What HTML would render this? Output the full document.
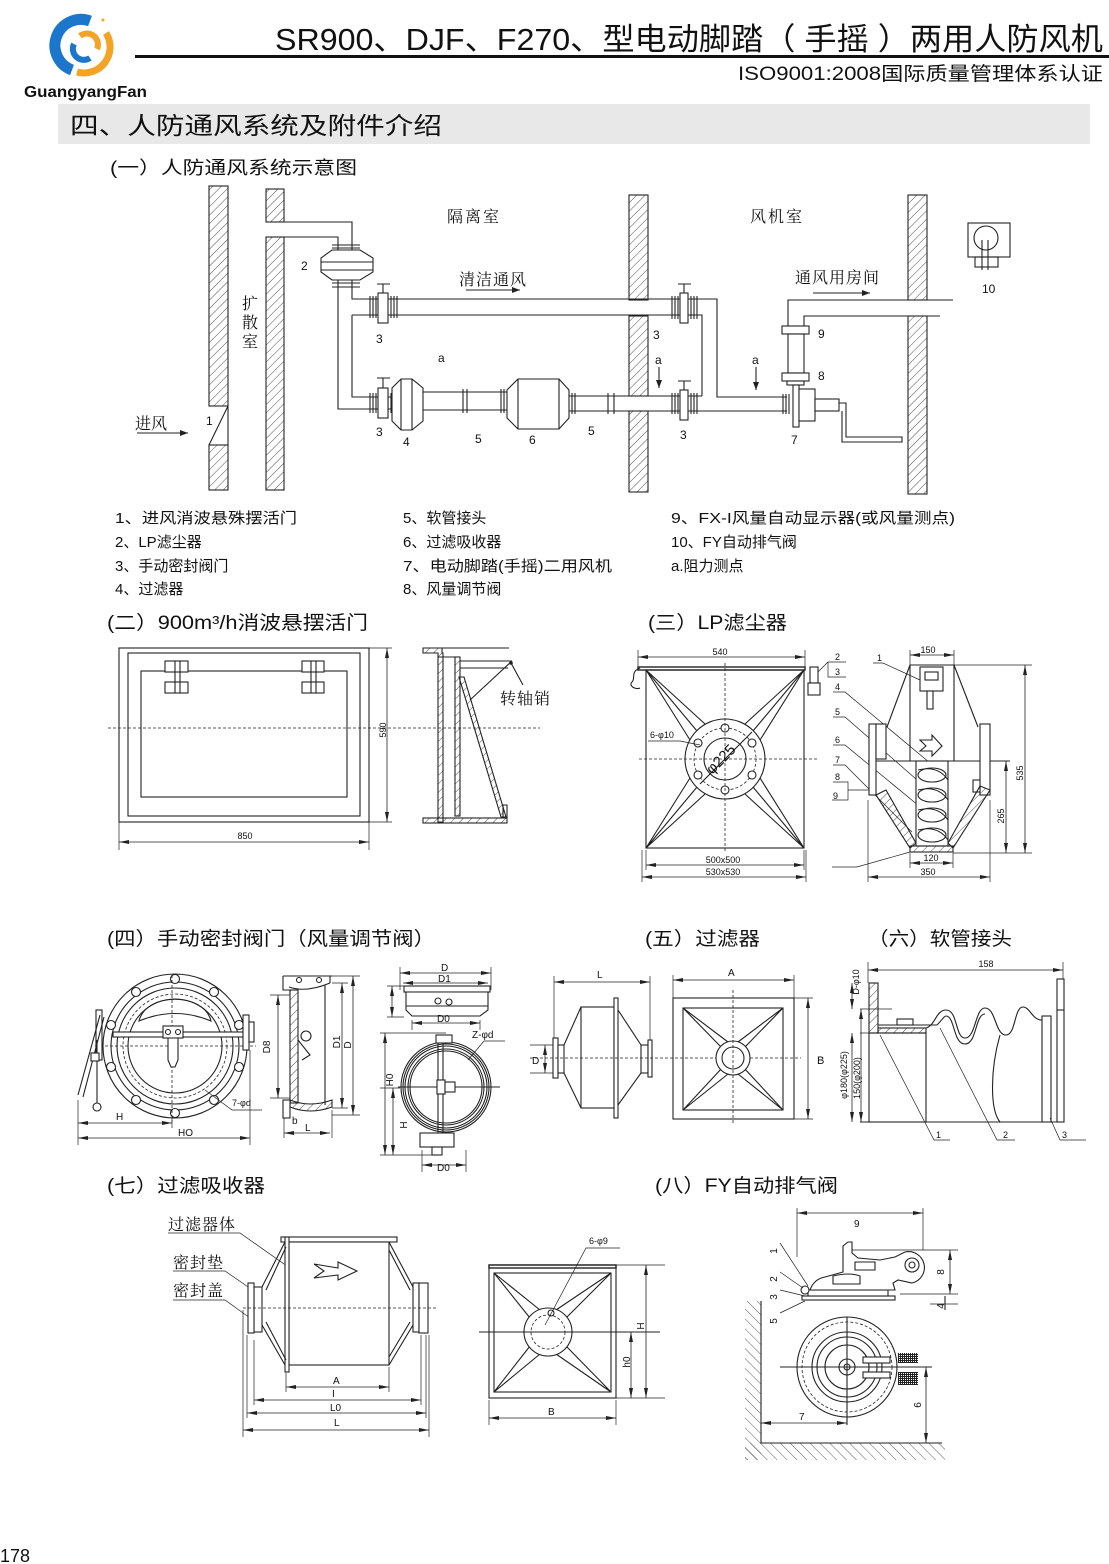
<!DOCTYPE html>
<html><head><meta charset="utf-8"><style>
html,body{margin:0;padding:0;background:#fff;}
svg{display:block;}
text{font-family:"Liberation Sans","Noto Sans CJK SC",sans-serif;fill:#111;}
.s{font-family:"Liberation Serif","Noto Serif CJK SC",serif;}
.l{stroke:#222;stroke-width:1.1;fill:none;}
.t{stroke:#222;stroke-width:1.4;fill:none;}
.w{stroke:#222;stroke-width:1.1;fill:#fff;}
.h{stroke:#222;stroke-width:1.1;fill:url(#hp);}
.d{stroke:#222;stroke-width:0.8;fill:none;marker-start:url(#ar);marker-end:url(#ar);}
.e{stroke:#222;stroke-width:0.7;fill:none;}
.dsh{stroke:#222;stroke-width:0.8;fill:none;stroke-dasharray:3 2;}
.n{font-size:12px;}
.m{font-size:9px;}
</style></head><body>
<svg width="1109" height="1564" viewBox="0 0 1109 1564" xmlns="http://www.w3.org/2000/svg">
<defs>
<pattern id="hp" width="6" height="6" patternUnits="userSpaceOnUse" patternTransform="rotate(45)"><line x1="0" y1="0" x2="0" y2="6" stroke="#222" stroke-width="0.8"/></pattern>
<pattern id="hp2" width="7" height="7" patternUnits="userSpaceOnUse" patternTransform="rotate(-45)"><line x1="0" y1="0" x2="0" y2="7" stroke="#333" stroke-width="0.8"/></pattern>
<pattern id="mesh" width="2" height="2" patternUnits="userSpaceOnUse"><rect width="1" height="2" fill="#222"/><rect width="2" height="1" fill="#222"/></pattern>
<marker id="ar" viewBox="0 0 10 4" refX="10" refY="2" markerWidth="10" markerHeight="4" orient="auto-start-reverse" markerUnits="userSpaceOnUse"><path d="M0,0 L10,2 L0,4z" fill="#222"/></marker>
<marker id="ar2" viewBox="0 0 8 6" refX="8" refY="3" markerWidth="8" markerHeight="6" orient="auto" markerUnits="userSpaceOnUse"><path d="M0,0 L8,3 L0,6z" fill="#222"/></marker>
</defs>

<!-- HEADER -->
<g>
<path d="M90,21 A26,26 0 0 0 72,70" stroke="#1c76cc" stroke-width="11" fill="none"/>
<path d="M106,33 A26,26 0 0 1 77,72" stroke="#f3a325" stroke-width="7" fill="none"/>
<path d="M74,44 A11,11 0 0 0 90,58" stroke="#1c76cc" stroke-width="6" fill="none"/>
<path d="M80,36 A11,11 0 0 1 97,49" stroke="#f3a325" stroke-width="6" fill="none"/>
<circle cx="103" cy="20" r="1.5" fill="#f3a325"/>
<text x="24" y="97" font-size="16" font-weight="bold" textLength="123" lengthAdjust="spacingAndGlyphs">GuangyangFan</text>
</g>
<text x="275" y="50" font-size="31" textLength="828" lengthAdjust="spacingAndGlyphs">SR900、DJF、F270、型电动脚踏（ 手摇 ）两用人防风机</text>
<rect x="135" y="55" width="974" height="3" fill="#111"/>
<text x="738" y="80" font-size="19" textLength="365" lengthAdjust="spacingAndGlyphs">ISO9001:2008国际质量管理体系认证</text>
<rect x="58" y="104" width="1032" height="40" fill="#e8e8e8"/>
<text x="70" y="134" font-size="24" textLength="372" lengthAdjust="spacingAndGlyphs">四、人防通风系统及附件介绍</text>
<text x="110" y="174" font-size="18" textLength="247" lengthAdjust="spacingAndGlyphs">(一）人防通风系统示意图</text>

<!-- SECTION 1 DIAGRAM -->
<g>
<rect class="h" x="209" y="186" width="19" height="220"/>
<rect class="h" x="209" y="445" width="19" height="45"/>
<line class="l" x1="228" y1="406" x2="228" y2="445"/>
<line class="l" x1="228" y1="406" x2="209" y2="445"/>
<rect class="h" x="266" y="189" width="18" height="33"/>
<rect class="h" x="266" y="237" width="18" height="253"/>
<rect class="h" x="629" y="195" width="19" height="105"/>
<rect class="h" x="629" y="316" width="19" height="80"/>
<rect class="h" x="629" y="411" width="19" height="81"/>
<rect class="h" x="908" y="195" width="19" height="105"/>
<rect class="h" x="908" y="316" width="19" height="178"/>

<path class="l" d="M284,222 H352 V250 M284,237 H338 V250"/>
<line class="l" x1="332" y1="245" x2="360" y2="245"/>
<line class="l" x1="332" y1="248" x2="360" y2="248"/>
<polygon class="w" points="332,250 360,250 373,258 373,272 360,280 332,280 321,272 321,258"/>
<line class="l" x1="321" y1="262" x2="373" y2="262"/>
<line class="l" x1="321" y1="270" x2="373" y2="270"/>
<line class="l" x1="332" y1="283" x2="360" y2="283"/>
<line class="l" x1="332" y1="287" x2="360" y2="287"/>
<path class="l" d="M338,280 V409 H392 M352,280 V299 H717 V397 H787 M352,315 V397 H392 M352,315 H702 V396"/>
<path class="l" d="M423,392 H507 M423,410 H507 M569,396 H702 M569,411 H787"/>
<g class="l">
<path d="M370,296V318M373,296V318M376,296V318M391,296V318M394,296V318M397,296V318"/>
<path d="M370,393V413M373,393V413M376,393V413M391,393V413M394,393V413M388,393V413"/>
<path d="M463,389V413M467,389V413M501,389V413M504,389V413M572,393V414M575,393V414M608,393V414M614,393V414"/>
<path d="M672,296V319M675,296V319M678,296V319M691,296V319M694,296V319M697,296V319"/>
<path d="M672,393V414M675,393V414M678,393V414M691,393V414M694,393V414M697,393V414"/>
<path d="M783,394V414M786,394V414M789,394V414"/>
</g>
<rect class="w" x="378" y="293" width="10" height="30"/>
<path class="l" d="M383,293V284M377,284H390"/>
<rect class="w" x="378" y="388" width="10" height="30"/>
<path class="l" d="M383,388V378M377,378H390"/>
<rect class="w" x="680" y="293" width="8" height="30"/>
<path class="l" d="M684,293V284M678,284H691"/>
<rect class="w" x="680" y="390" width="8" height="30"/>
<path class="l" d="M684,390V381M678,381H691"/>
<polygon class="w" points="392,388 401,379 412,379 423,388 423,421 412,430 401,430 392,421"/>
<path class="l" d="M401,379V430M412,379V430"/>
<polygon class="w" points="507,390 518,379 559,379 569,390 569,418 559,429 518,429 507,418"/>
<path class="l" d="M518,379V429M559,379V429"/>
<path class="l" d="M788,326 V300 H953 M804,326 V316 H940"/>
<rect class="w" x="782" y="326" width="27" height="8"/>
<rect class="w" x="788" y="334" width="16" height="39"/>
<rect class="w" x="782" y="373" width="27" height="8"/>
<rect class="w" x="787" y="381" width="17" height="4"/>
<rect class="w" x="793" y="385" width="6" height="42"/>
<rect class="w" x="799" y="389" width="16" height="32"/>
<rect class="w" x="815" y="399" width="24" height="12"/>
<path class="l" d="M839,403 H846 V437 H902 V442 H842 V411"/>
<rect class="w" x="968" y="223" width="42" height="34"/>
<circle class="l" cx="986" cy="238" r="12"/>
<rect class="l" x="975" y="257" width="23" height="10"/>
<path class="l" d="M982,240V270M988,240V270"/>
<text class="s" x="447" y="222" font-size="16" letter-spacing="2">隔离室</text>
<text class="s" x="750" y="222" font-size="16" letter-spacing="2">风机室</text>
<text class="s" x="459" y="285" font-size="16" letter-spacing="1">清洁通风</text>
<line class="l" x1="466" y1="290" x2="520" y2="290" marker-end="url(#ar2)"/>
<text class="s" x="795" y="283" font-size="16" letter-spacing="1">通风用房间</text>
<line class="l" x1="813" y1="293" x2="870" y2="293" marker-end="url(#ar2)"/>
<text class="s" x="242" y="309" font-size="16">扩</text>
<text class="s" x="242" y="328" font-size="16">散</text>
<text class="s" x="242" y="347" font-size="16">室</text>
<text class="s" x="135" y="429" font-size="16">进风</text>
<line class="l" x1="137" y1="433" x2="188" y2="433" marker-end="url(#ar2)"/>
<g class="n">
<text x="206" y="425">1</text>
<text x="301" y="270">2</text>
<text x="376" y="343">3</text>
<text x="438" y="362">a</text>
<text x="376" y="436">3</text>
<text x="403" y="446">4</text>
<text x="475" y="443">5</text>
<text x="529" y="444">6</text>
<text x="588" y="435">5</text>
<text x="653" y="339">3</text>
<text x="655" y="364">a</text>
<text x="752" y="364">a</text>
<text x="680" y="439">3</text>
<text x="791" y="444">7</text>
<text x="818" y="338">9</text>
<text x="818" y="380">8</text>
<text x="982" y="293">10</text>
</g>
<line class="l" x1="659" y1="367" x2="659" y2="388" marker-end="url(#ar2)"/>
<line class="l" x1="756" y1="367" x2="756" y2="390" marker-end="url(#ar2)"/>
</g>

<!-- PARTS LIST -->
<g font-size="15">
<text x="115" y="523" textLength="182" lengthAdjust="spacingAndGlyphs">1、进风消波悬殊摆活门</text>
<text x="115" y="547">2、LP滤尘器</text>
<text x="115" y="571">3、手动密封阀门</text>
<text x="115" y="594">4、过滤器</text>
<text x="403" y="523">5、软管接头</text>
<text x="403" y="547">6、过滤吸收器</text>
<text x="403" y="571" textLength="209" lengthAdjust="spacingAndGlyphs">7、电动脚踏(手摇)二用风机</text>
<text x="403" y="594">8、风量调节阀</text>
<text x="671" y="523" textLength="284" lengthAdjust="spacingAndGlyphs">9、FX-I风量自动显示器(或风量测点)</text>
<text x="671" y="547">10、FY自动排气阀</text>
<text x="671" y="571">a.阻力测点</text>
</g>

<!-- SECTION TITLES -->
<g font-size="19">
<text x="107" y="629" textLength="261" lengthAdjust="spacingAndGlyphs">(二）900m³/h消波悬摆活门</text>
<text x="648" y="629" textLength="139" lengthAdjust="spacingAndGlyphs">(三）LP滤尘器</text>
<text x="107" y="945" textLength="328" lengthAdjust="spacingAndGlyphs">(四）手动密封阀门（风量调节阀）</text>
<text x="645" y="945" textLength="115" lengthAdjust="spacingAndGlyphs">(五）过滤器</text>
<text x="868" y="945" textLength="144" lengthAdjust="spacingAndGlyphs">（六）软管接头</text>
<text x="107" y="1192" textLength="158" lengthAdjust="spacingAndGlyphs">(七）过滤吸收器</text>
<text x="655" y="1192" textLength="183" lengthAdjust="spacingAndGlyphs">(八）FY自动排气阀</text>
</g>

<!-- SECTION 2 -->
<g>
<rect class="l" x="119" y="648" width="250" height="174"/>
<rect class="l" x="128" y="653" width="232" height="163"/>
<rect class="l" x="141" y="671" width="206" height="126"/>
<rect class="w" x="165" y="661" width="23" height="11"/>
<rect class="w" x="165" y="682" width="23" height="11"/>
<path class="l" d="M175,661V693M180,661V693"/>
<rect class="w" x="302" y="661" width="22" height="11"/>
<rect class="w" x="302" y="682" width="22" height="11"/>
<path class="l" d="M311,661V693M316,661V693"/>
<line class="dsh" x1="108" y1="728" x2="540" y2="728"/>
<path class="e" d="M369,648H392M369,822H392M119,822V850M369,822V850"/>
<line class="d" x1="387" y1="648" x2="387" y2="822"/>
<text class="m" transform="translate(386,730) rotate(-90)" text-anchor="middle">590</text>
<line class="d" x1="119" y1="842" x2="369" y2="842"/>
<text class="m" x="245" y="839" text-anchor="middle">850</text>
<path class="h" d="M423,648 H442 V653 H443 V822 H438 V653 H423 Z"/>
<rect class="h" x="455" y="657" width="5" height="159"/>
<path class="l" d="M438,657H460M442,648H509M460,661H512M460,668H508M470,700L512,661"/>
<polygon class="h" points="459,677 464,677 506,817 501,817"/>
<rect class="h" x="423" y="818" width="84" height="5"/>
<path class="l" d="M503,818V805H507V818"/>
<circle cx="511" cy="663" r="1.8" fill="#222"/>
<line class="l" x1="511" y1="663" x2="523" y2="685"/>
<text class="s" x="500" y="704" font-size="16" letter-spacing="1">转轴销</text>
</g>

<!-- SECTION 3 -->
<g>
<rect class="t" x="638" y="667" width="167" height="3"/>
<rect class="l" x="646" y="670" width="158" height="178"/>
<path class="l" d="M646,670L705,724M646,670L690,740M804,670L745,724M804,670L760,740M646,848L690,778M646,848L705,794M804,848L760,778M804,848L745,794M646,670L697,731M804,670L753,731M646,848L697,787M804,848L753,787"/>
<circle class="w" cx="725" cy="759" r="40"/>
<circle class="dsh" cx="725" cy="759" r="31"/>
<circle class="l" cx="725" cy="759" r="21"/>
<g class="w"><circle cx="725" cy="728" r="4"/><circle cx="752" cy="743" r="4"/><circle cx="752" cy="775" r="4"/><circle cx="725" cy="790" r="4"/><circle cx="698" cy="775" r="4"/><circle cx="698" cy="743" r="4"/></g>
<line class="dsh" x1="725" y1="663" x2="725" y2="853"/>
<line class="dsh" x1="639" y1="759" x2="817" y2="759"/>
<line class="l" x1="700" y1="784" x2="752" y2="732"/>
<text x="0" y="0" font-size="15" transform="translate(712,775) rotate(-45)">φ225</text>
<text class="m" x="650" y="738">6-φ10</text>
<path class="e" d="M648,741H680L700,745"/>
<path class="l" d="M640,668 C630,672 636,678 632,682 C628,686 636,690 640,688"/>
<rect class="w" x="810" y="667" width="8" height="16"/>
<rect class="w" x="808" y="683" width="12" height="12"/>
<path class="e" d="M638,650V668M805,650V668M646,850V870M804,850V870M642,850V882M806,850V882"/>
<line class="d" x1="638" y1="657" x2="805" y2="657"/>
<text class="m" x="720" y="655" text-anchor="middle">540</text>
<line class="d" x1="646" y1="865" x2="804" y2="865"/>
<text class="m" x="723" y="863" text-anchor="middle">500x500</text>
<line class="d" x1="642" y1="877" x2="806" y2="877"/>
<text class="m" x="723" y="875" text-anchor="middle">530x530</text>
<g class="m"><text x="835" y="660">2</text><text x="835" y="675">3</text><text x="835" y="690">4</text><text x="835" y="715">5</text><text x="835" y="743">6</text><text x="835" y="763">7</text><text x="835" y="780">8</text><text x="833" y="799">9</text><text x="877" y="661">1</text></g>
<path class="e" d="M818,672L828,662H846M828,662V677H846M833,692H845L930,763M833,717H845L940,800M833,745H845L930,815M833,765H845L912,832M833,782H848V800H832M848,790H870M873,663H883L920,680"/>
<path class="e" d="M910,650V665M954,650V665"/>
<line class="d" x1="910" y1="655" x2="954" y2="655"/>
<text class="m" x="928" y="653" text-anchor="middle">150</text>
<path class="l" d="M910,665H954M910,665L887,727M954,665L978,727M910,665V761M954,665V761M868,761H1010"/>
<rect class="w" x="920" y="667" width="23" height="24"/>
<rect class="l" x="925" y="672" width="13" height="8"/>
<rect class="w" x="927" y="691" width="6" height="18"/>
<rect class="w" x="869" y="724" width="7" height="71"/>
<rect class="w" x="876" y="724" width="10" height="35"/>
<rect class="w" x="980" y="724" width="10" height="71"/>
<rect class="w" x="973" y="780" width="7" height="12"/>
<path class="l" d="M920,740H932V735L942,746L932,756V751H920L926,746Z"/>
<polygon class="h" points="876,795 886,790 916,843 910,848"/>
<polygon class="h" points="980,786 990,790 953,848 948,843"/>
<rect class="w" x="916" y="761" width="32" height="85"/>
<g class="l">
<ellipse cx="932" cy="775" rx="14" ry="7"/><ellipse cx="932" cy="795" rx="14" ry="7"/><ellipse cx="932" cy="815" rx="14" ry="7"/><ellipse cx="932" cy="835" rx="14" ry="7"/>
<path d="M918,770Q938,765 948,780M918,790Q938,785 948,800M918,810Q938,805 948,820M918,830Q938,825 948,840"/>
</g>
<rect class="h" x="910" y="846" width="43" height="6"/>
<path class="e" d="M954,665H1032M953,853H1032M868,800V882M990,800V882M910,853V868M953,853V868M910,852L857,867H832"/>
<line class="d" x1="1025" y1="665" x2="1025" y2="853"/>
<text class="m" transform="translate(1023,773) rotate(-90)" text-anchor="middle">535</text>
<line class="d" x1="1006" y1="761" x2="1006" y2="853"/>
<text class="m" transform="translate(1004,816) rotate(-90)" text-anchor="middle">265</text>
<line class="d" x1="910" y1="863" x2="953" y2="863"/>
<text class="m" x="931" y="861" text-anchor="middle">120</text>
<line class="d" x1="868" y1="877" x2="990" y2="877"/>
<text class="m" x="928" y="875" text-anchor="middle">350</text>
</g>

<!-- SECTION 4 -->
<g>
<circle class="w" cx="175" cy="1046" r="72"/>
<circle class="l" cx="175" cy="1046" r="64"/>
<circle class="l" cx="175" cy="1046" r="58"/>
<circle class="dsh" cx="175" cy="1046" r="52"/>
<circle class="l" cx="175" cy="1046" r="47"/>
<g class="w">
<circle cx="175" cy="979" r="4.5"/><circle cx="214" cy="992" r="4.5"/><circle cx="239" cy="1025" r="4.5"/><circle cx="239" cy="1067" r="4.5"/><circle cx="214" cy="1100" r="4.5"/><circle cx="175" cy="1113" r="4.5"/><circle cx="136" cy="1100" r="4.5"/><circle cx="111" cy="1067" r="4.5"/><circle cx="111" cy="1025" r="4.5"/><circle cx="136" cy="992" r="4.5"/>
</g>
<line class="dsh" x1="95" y1="1046" x2="256" y2="1046"/>
<line class="dsh" x1="172" y1="975" x2="172" y2="1122"/>
<path class="l" d="M139,1021 C146,992 204,992 211,1021 Q175,1006 139,1021Z"/>
<rect class="w" x="113" y="1032" width="134" height="5"/>
<rect class="w" x="163" y="1026" width="20" height="12"/>
<circle class="l" cx="168" cy="1032" r="2.5"/><circle class="l" cx="178" cy="1032" r="2.5"/>
<path class="w" d="M168,1038 H178 V1060 L175,1067 H171 L168,1060Z"/>
<rect class="w" x="96" y="1010" width="6" height="50"/>
<path class="l" d="M78,1095L100,1015M83,1097L104,1017M97,1040V1103"/>
<rect class="w" x="91" y="1053" width="8" height="8"/>
<circle class="w" cx="97" cy="1107" r="4"/>
<rect class="w" x="243" y="1015" width="6" height="35"/>
<rect class="w" x="249" y="1022" width="5" height="20"/>
<path class="e" d="M205,1090L232,1110H262M78,1100V1145M172,1115V1128M250,1050V1145"/>
<text class="m" x="232" y="1106" font-size="10">7-φd</text>
<line class="d" x1="78" y1="1123" x2="172" y2="1123"/>
<text x="116" y="1120" font-size="10">H</text>
<line class="d" x1="78" y1="1138" x2="250" y2="1138"/>
<text x="178" y="1136" font-size="10">HO</text>
<path class="l" d="M283,976H332M283,976V990H290M289,987Q306,993 330,983M330,976V983"/>
<circle class="l" cx="299" cy="980" r="2.5"/><circle class="l" cx="319" cy="980" r="2.5"/>
<rect class="h" x="290" y="990" width="8" height="113"/>
<line class="l" x1="325" y1="985" x2="325" y2="1105"/>
<path class="h" d="M290,1100 Q310,1108 332,1100 L332,1107 Q310,1115 290,1107Z"/>
<rect class="w" x="283" y="1100" width="7" height="18"/>
<circle class="w" cx="306" cy="1036" r="5"/>
<path class="l" d="M298,1040L310,1055L302,1060"/>
<path class="e" d="M270,995H290M270,1098H290M332,983H348M332,1108H348M332,976H360M332,1115H360M284,1118V1138M332,1110V1138"/>
<line class="d" x1="278" y1="995" x2="278" y2="1098"/>
<text transform="translate(270,1047) rotate(-90)" font-size="10" text-anchor="middle">D8</text>
<line class="d" x1="342" y1="983" x2="342" y2="1108"/>
<text transform="translate(340,1042) rotate(-90)" font-size="10" text-anchor="middle">D1</text>
<line class="d" x1="353" y1="976" x2="353" y2="1115"/>
<text transform="translate(351,1045) rotate(-90)" font-size="10" text-anchor="middle">D</text>
<text x="292" y="1124" font-size="10">b</text>
<line class="d" x1="284" y1="1133" x2="330" y2="1133"/>
<text x="305" y="1131" font-size="10">L</text>
<path class="e" d="M400,967V990M491,967V990M387,986H404M387,1017H404M412,1020V1030M480,1020V1030"/>
<line class="d" x1="400" y1="973" x2="491" y2="973"/>
<text x="441" y="971" font-size="10">D</text>
<line class="d" x1="403" y1="983" x2="488" y2="983"/>
<text x="438" y="982" font-size="10">D1</text>
<line class="d" x1="392" y1="986" x2="392" y2="1017"/>
<rect class="w" x="404" y="986" width="86" height="6"/>
<path class="w" d="M406,992H488V1010L480,1016H412L406,1010Z"/>
<path class="l" d="M406,1006H488"/>
<circle class="l" cx="438" cy="1001" r="3"/><circle class="l" cx="449" cy="1002" r="3"/>
<line class="d" x1="412" y1="1023" x2="480" y2="1023"/>
<text x="437" y="1022" font-size="10">D0</text>
<circle class="w" cx="446" cy="1087" r="45"/>
<circle class="l" cx="446" cy="1087" r="43"/>
<circle class="l" cx="446" cy="1087" r="41"/>
<circle class="l" cx="446" cy="1087" r="38"/>
<circle class="l" cx="446" cy="1087" r="36"/>
<rect class="w" x="436" y="1035" width="16" height="8"/>
<path class="l" d="M438,1043V1133M443,1043V1133M398,1087H500"/>
<rect class="w" x="437" y="1080" width="8" height="14"/>
<rect class="w" x="445" y="1082" width="10" height="10"/>
<rect class="w" x="420" y="1133" width="34" height="14"/>
<rect class="w" x="432" y="1147" width="10" height="8"/>
<path class="e" d="M468,1060L484,1041H505M380,1033H446M380,1155H432M380,1088H400M422,1150V1172M466,1150V1172"/>
<text x="472" y="1038" font-size="10">Z-φd</text>
<line class="d" x1="385" y1="1033" x2="385" y2="1155"/>
<text transform="translate(393,1080) rotate(-90)" font-size="10" text-anchor="middle">H0</text>
<line class="d" x1="393" y1="1088" x2="393" y2="1155"/>
<text transform="translate(407,1125) rotate(-90)" font-size="10" text-anchor="middle">H</text>
<line class="d" x1="422" y1="1165" x2="466" y2="1165"/>
<text x="437" y="1171" font-size="10">D0</text>
</g>

<!-- SECTION 5 -->
<g>
<rect class="w" x="581" y="1007" width="33" height="101"/>
<rect class="w" x="614" y="998" width="4" height="120"/>
<path class="l" d="M581,1007L564,1045M581,1108L564,1073M618,1010L641,1045M618,1105L641,1073"/>
<rect class="w" x="553" y="1038" width="5" height="40"/>
<rect class="w" x="558" y="1045" width="6" height="28"/>
<rect class="w" x="641" y="1045" width="7" height="28"/>
<rect class="w" x="648" y="1040" width="4" height="37"/>
<line class="dsh" x1="530" y1="1058" x2="801" y2="1058"/>
<path class="e" d="M554,976V1038M650,976V1040M530,1045H553M530,1073H553"/>
<line class="d" x1="554" y1="982" x2="650" y2="982"/>
<text x="597" y="978" font-size="10">L</text>
<line class="d" x1="545" y1="1045" x2="545" y2="1073"/>
<text x="532" y="1064" font-size="10">D</text>
<rect class="l" x="673" y="998" width="121" height="121"/>
<rect class="l" x="683" y="1008" width="100" height="102"/>
<path class="l" d="M683,1008L722,1048M683,1008L728,1042M783,1008L744,1048M783,1008L738,1042M683,1110L722,1068M683,1110L728,1074M783,1110L744,1068M783,1110L738,1074"/>
<circle class="w" cx="733" cy="1058" r="17"/>
<circle class="l" cx="733" cy="1058" r="11"/>
<line class="dsh" x1="733" y1="990" x2="733" y2="1125"/>
<path class="e" d="M673,975V998M794,975V998M794,998H813M794,1119H813"/>
<line class="d" x1="673" y1="980" x2="794" y2="980"/>
<text x="728" y="976" font-size="10">A</text>
<line class="d" x1="808" y1="998" x2="808" y2="1119"/>
<text x="817" y="1064" font-size="11">B</text>
</g>

<!-- SECTION 6 -->
<g>
<path class="e" d="M868,962V983M1063,962V979M860,1009H892M860,1033H878"/>
<line class="d" x1="868" y1="970" x2="1063" y2="970"/>
<text class="m" x="986" y="967" text-anchor="middle">158</text>
<rect class="h" x="869" y="983" width="9" height="50"/>
<rect class="h" x="878" y="1028" width="48" height="5"/>
<path class="l" d="M878,1025H937"/>
<rect class="w" x="897" y="1019" width="16" height="6"/>
<rect class="l" x="869" y="1033" width="57" height="89"/>
<path class="l" d="M926,1028 C935,1026 936,1010 946,1010 C958,1010 955,1038 965,1038 C976,1038 975,1008 985,1008 C996,1008 995,1035 1006,1035 C1016,1035 1014,1007 1023,1007 C1030,1007 1032,1020 1042,1020"/>
<path class="l" d="M937,1025 C944,1018 944,1016 946,1016 C955,1016 953,1044 965,1044 C977,1044 975,1014 985,1014"/>
<path class="l" d="M1000,1035 C990,1070 990,1110 1000,1122"/>
<rect class="w" x="1042" y="1016" width="9" height="106"/>
<rect class="w" x="1057" y="979" width="7" height="143"/>
<line class="l" x1="1057" y1="1010" x2="1064" y2="1010"/>
<line class="l" x1="860" y1="1122" x2="1064" y2="1122"/>
<line class="d" x1="852" y1="983" x2="852" y2="1009"/>
<line class="d" x1="852" y1="1033" x2="852" y2="1122"/>
<line class="d" x1="861" y1="1009" x2="861" y2="1122"/>
<text transform="translate(859,982) rotate(-90)" class="m" text-anchor="middle">D-φ10</text>
<text transform="translate(847,1075) rotate(-90)" class="m" text-anchor="middle">φ180(φ225)</text>
<text transform="translate(860,1078) rotate(-90)" class="m" text-anchor="middle">150(φ200)</text>
<path class="e" d="M880,1035L934,1140H950M940,1028L997,1140H1015M1050,1118L1060,1140H1086"/>
<text class="m" x="936" y="1138">1</text>
<text class="m" x="1003" y="1138">2</text>
<text class="m" x="1062" y="1138">3</text>
</g>

<!-- SECTION 7 -->
<g>
<text class="s" x="168" y="1230" font-size="16" letter-spacing="1">过滤器体</text>
<text class="s" x="173" y="1268" font-size="16" letter-spacing="1">密封垫</text>
<text class="s" x="173" y="1296" font-size="16" letter-spacing="1">密封盖</text>
<path class="e" d="M168,1233H240L311,1283M173,1271H225L254,1291M173,1300H225L250,1318"/>
<rect class="w" x="281" y="1237" width="116" height="5"/>
<rect class="w" x="289" y="1242" width="100" height="123"/>
<rect class="w" x="285" y="1237" width="4" height="135"/>
<path class="l" d="M285,1242L262,1287M285,1365L262,1325M286,1247L266,1290M286,1360L266,1322M389,1242L413,1287M389,1365L413,1325M389,1250L410,1290M389,1357L410,1322"/>
<rect class="w" x="254" y="1287" width="8" height="45"/>
<rect class="w" x="248" y="1283" width="6" height="50"/>
<rect class="w" x="413" y="1283" width="6" height="49"/>
<rect class="w" x="419" y="1283" width="9" height="50"/>
<line class="dsh" x1="243" y1="1308" x2="436" y2="1308"/>
<path class="l" d="M314,1264L338,1268V1262L357,1271L338,1280V1275L314,1278L324,1271Z"/>
<path class="e" d="M243,1310V1437M247,1335V1418M254,1340V1405M286,1373V1392M389,1367V1392M421,1335V1405M426,1335V1418M429,1335V1437"/>
<line class="d" x1="286" y1="1387" x2="389" y2="1387"/>
<text x="333" y="1384" font-size="10">A</text>
<line class="d" x1="254" y1="1400" x2="421" y2="1400"/>
<text x="332" y="1397" font-size="10">I</text>
<line class="d" x1="247" y1="1413" x2="426" y2="1413"/>
<text x="330" y="1411" font-size="10">L0</text>
<line class="d" x1="243" y1="1430" x2="429" y2="1430"/>
<text x="334" y="1426" font-size="10">L</text>
<rect class="t" x="489" y="1265" width="127" height="3"/>
<rect class="l" x="489" y="1265" width="127" height="133"/>
<rect class="l" x="494" y="1273" width="117" height="119"/>
<path class="l" d="M494,1273L540,1310M494,1273L530,1318M611,1273L556,1310M611,1273L566,1318M494,1392L530,1346M494,1392L540,1354M611,1392L566,1346M611,1392L556,1354"/>
<circle class="w" cx="548" cy="1332" r="24"/>
<circle class="dsh" cx="548" cy="1332" r="17"/>
<line class="l" x1="479" y1="1332" x2="660" y2="1332"/>
<circle class="l" cx="551" cy="1313" r="3"/>
<path class="e" d="M545,1325L586,1248H620M616,1265H665M616,1398H665M489,1400V1425M616,1400V1425"/>
<text class="m" x="589" y="1244" font-size="10">6-φ9</text>
<line class="d" x1="646" y1="1265" x2="646" y2="1398"/>
<text transform="translate(644,1326) rotate(-90)" font-size="10" text-anchor="middle">H</text>
<line class="d" x1="631" y1="1332" x2="631" y2="1398"/>
<text transform="translate(630,1362) rotate(-90)" font-size="10" text-anchor="middle">h0</text>
<line class="d" x1="489" y1="1418" x2="616" y2="1418"/>
<text x="548" y="1415" font-size="10">B</text>
</g>

<!-- SECTION 8 -->
<g>
<path class="e" d="M797,1208V1257M923,1208V1250M850,1250H958M900,1294H958M930,1304H958"/>
<line class="d" x1="797" y1="1213" x2="923" y2="1213"/>
<text x="854" y="1227" font-size="10">9</text>
<rect class="w" x="802" y="1296" width="93" height="4"/>
<rect class="w" x="808" y="1290" width="80" height="6"/>
<path class="w" d="M810,1290 Q814,1279 825,1277 L843,1272 V1246 L848,1242 H852 V1253 L858,1258 L880,1260 L895,1257 L905,1252 A11,11 0 1 1 912,1283 L898,1280 L893,1283 L895,1290 Z"/>
<circle class="l" cx="912" cy="1265" r="7"/>
<circle class="l" cx="912" cy="1265" r="3"/>
<path class="l" d="M855,1262H875V1270H855Z M833,1276 Q850,1272 860,1276 V1284 H833Z"/>
<circle class="w" cx="805" cy="1290" r="4"/>
<line class="d" x1="950" y1="1250" x2="950" y2="1294"/>
<text transform="translate(944,1272) rotate(-90)" font-size="10" text-anchor="middle">8</text>
<line class="l" x1="945" y1="1296" x2="945" y2="1310"/>
<text transform="translate(944,1306) rotate(-90)" font-size="10" text-anchor="middle">4</text>
<g font-size="10">
<text transform="translate(777,1251) rotate(-90)" text-anchor="middle">1</text>
<text transform="translate(777,1279) rotate(-90)" text-anchor="middle">2</text>
<text transform="translate(777,1297) rotate(-90)" text-anchor="middle">3</text>
<text transform="translate(777,1321) rotate(-90)" text-anchor="middle">5</text>
</g>
<path class="e" d="M780,1243L808,1286M780,1272L803,1288M780,1290L805,1296M780,1313L805,1301"/>
<rect x="745" y="1301" width="16" height="159" fill="url(#hp2)"/>
<rect x="745" y="1443" width="200" height="17" fill="url(#hp2)"/>
<path class="l" d="M761,1301V1443H942"/>
<circle class="l" cx="847" cy="1367" r="50"/>
<circle class="dsh" cx="847" cy="1367" r="45"/>
<circle class="l" cx="847" cy="1367" r="35"/>
<circle class="l" cx="847" cy="1367" r="30"/>
<circle class="l" cx="847" cy="1367" r="22"/>
<circle class="l" cx="847" cy="1367" r="8"/>
<circle class="l" cx="847" cy="1367" r="3"/>
<path class="l" d="M847,1317V1425M780,1367H932"/>
<rect class="w" x="863" y="1357" width="27" height="6"/>
<rect class="w" x="863" y="1372" width="27" height="6"/>
<rect x="898" y="1353" width="20" height="10" fill="url(#mesh)"/>
<rect x="898" y="1372" width="20" height="13" fill="url(#mesh)"/>
<line class="d" x1="926" y1="1367" x2="926" y2="1443"/>
<text transform="translate(921,1405) rotate(-90)" font-size="10" text-anchor="middle">6</text>
<line class="d" x1="761" y1="1423" x2="847" y2="1423"/>
<text x="799" y="1420" font-size="10">7</text>
</g>

<text x="0" y="1562" font-size="18">178</text>
</svg>
</body></html>
